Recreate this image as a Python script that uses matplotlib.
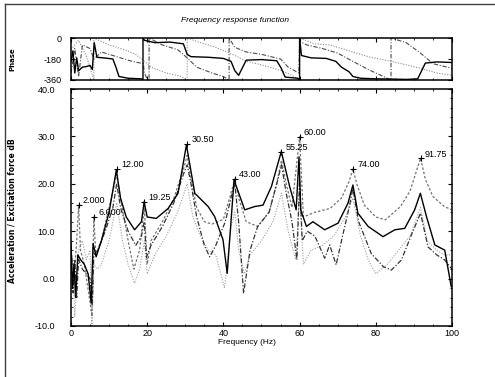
import matplotlib
matplotlib.use('Agg')
import matplotlib.pyplot as plt
from matplotlib.lines import Line2D
from matplotlib.ticker import MultipleLocator, FormatStrFormatter

# ---------------------------------------------------------------------------------------------
# data (frequency in Hz, amplitude in dB, phase in degrees)
# ---------------------------------------------------------------------------------------------
freq_a = [0, 0.4, 0.8, 1.2, 1.8, 2.5, 3.5, 4.5, 5.3, 5.8, 6.6, 8, 10, 11.9, 13, 14.5, 16.7, 18.5,
          19.2, 20, 22.4, 25.5, 28.1, 30.3, 32.5, 36, 37.7, 39.9, 41, 42.8, 45.6, 48.2, 50.4, 52.6,
          55.2, 57.4, 59.1, 59.85, 60.3, 61.8, 63.5, 66.6, 70.1, 72.7, 74, 75.3, 78, 81.9, 85, 87.6,
          90.2, 91.7, 93.3, 95.5, 98.1, 99.8]
db_a = [7, -2, 3, -4, 5, 4, 3, 1, -5.2, 7.4, 4.6, 8, 14, 22.9, 17, 13, 10.3, 12,
        16.2, 13, 12.7, 14.8, 18, 28.2, 18, 15.2, 13.1, 8.2, 1.1, 20.8, 14.5, 15.2, 15.5, 19.4,
        26.8, 19.4, 14.5, 25.7, 14.5, 11, 12, 10.3, 11.7, 15.9, 19.75, 13.8, 11, 8.85, 10.3, 10.6,
        14.5, 18, 13.1, 7.1, 6, -1.7]

freq_b = [0, 0.5, 1, 1.5, 2, 3, 4, 5, 5.6, 6, 7, 9, 11, 12, 13, 15, 17, 18.5, 19.25, 19.8, 21, 24,
          27, 29.5, 30.5, 31.5, 33, 35, 36.4, 38, 40.5, 42, 43, 44, 45.3, 47, 49, 52, 54, 55.25,
          56.5, 58, 59.3, 60, 60.7, 62, 64, 66.6, 67.9, 69.6, 71, 73, 74, 75.5, 78.8, 82, 84.1,
          86.7, 89.5, 91.75, 93.7, 96, 98, 100]
db_b = [8, -3, 4, -4, 4, 2, 1, 0, -5.5, 5, 6, 10, 15, 20, 15, 10, 7, 9, 12, 4.5, 7, 11,
        16, 22, 24, 20, 13, 7, 4.6, 7, 12, 17, 20, 12, -3.1, 6, 11, 14, 20, 24,
        18, 12, 4, 21, 8, 10, 9, 4.3, 7.1, 2.9, 8, 15, 19, 12, 5.3, 2.5, 1.8,
        3.9, 9.5, 13.8, 6.7, 5, 4, 2]

freq_c = [0, 1, 1.5, 2, 2.5, 3.5, 5, 5.5, 6, 6.5, 8, 10, 12, 13, 15, 16.5, 18, 19.25, 20, 21, 24,
          27, 29.5, 30.5, 31.5, 33, 35, 37, 40, 42, 43, 44, 46, 49, 52, 54, 55.25, 56.5, 58, 60,
          61, 64, 68, 71, 73, 74, 75, 77, 80, 82.5, 86.5, 89, 91.75, 93, 95, 98, 100]
db_c = [5, 2, 8, 15.5, 6, 3, -5, -8, 13, 5, 8, 15, 22, 17, 8, 2, 6, 15, 3, 8, 12,
        17, 23, 26, 21, 15, 12, 11.5, 12.5, 18, 21, 17, 12, 11, 14, 20, 25, 20, 15, 29.9,
        13, 14, 14.8, 17, 20.5, 23.1, 20, 15.5, 13, 12.4, 15.2, 18.5, 25.4, 21, 17.3, 15.2, 14.5]

freq_d = [0, 0.3, 1, 2, 3, 4, 5, 5.5, 6, 7, 8, 10, 12, 13.5, 15, 16.7, 18, 19.25, 20, 22, 25, 28,
          30.5, 32, 34, 36, 38, 40.3, 42, 43, 44, 45.5, 47, 50, 53, 55.25, 57, 59, 60, 61, 63,
          66, 69, 72, 74, 76, 78, 80, 83, 86, 89, 91.75, 93.5, 96, 98, 100]
db_d = [-9, 5, -8, 6, 8, 4, 6, -10, 3, 2, 3, 8, 16, 8, 3, -1, 2, 8, 1, 5, 9, 14,
        20, 13, 9, 6, 5, -2, 11, 14, 6, 1, 5, 8, 12, 18, 10, 4, 18, 3, 6,
        7, 9, 13, 17, 9, 4, 1, 3, 6, 9, 15, 8, 6, 5, 5]

# phase traces (a wrap from -360 back to 0 shows as two points at the same frequency)
ph_freq_a = [0, 0.5, 1, 1.5, 2, 3, 4, 5, 5.6, 6.1, 6.8, 9, 11, 11.8, 12.6, 15, 18.5, 18.9, 18.9,
             19.3, 22, 26, 29.5, 30.5, 31.5, 36, 40, 42, 43, 44, 46, 50, 54, 55.2, 56.2, 59.5,
             60, 60, 60.5, 63, 67, 69.5, 71, 73, 74, 76, 80, 84, 88, 91, 91.75, 93, 96, 100]
ph_a = [-200, -110, -300, -170, -280, -250, -245, -235, -270, -40, -165, -172, -180, -250, -330,
        -345, -350, -360, 0, -20, -40, -35, -50, -140, -160, -165, -175, -200, -280, -320, -190,
        -185, -195, -260, -335, -345, -360, 0, -150, -170, -175, -200, -250, -290, -330, -345,
        -350, -352, -355, -350, -300, -215, -205, -210]

ph_freq_b = [0, 1, 2, 3, 5, 6, 8, 12, 16, 19, 19.25, 20, 20.5, 20.5, 24, 28, 30.5, 33, 37, 40, 41.5,
             41.5, 43, 46, 50, 55, 57, 59.8, 60, 62, 66, 70, 74, 78, 82, 84, 84, 88, 91.75, 95, 100]
ph_b = [-300, -90, -330, -60, -90, -180, -120, -160, -200, -220, -300, -350, -360, 0, -60, -100,
        -170, -250, -300, -330, -360, 0, -80, -120, -140, -180, -250, -300, -30, -60, -90, -130,
        -200, -270, -330, -360, 0, -40, -130, -220, -260]

ph_freq_c = [0, 2, 4, 6, 6, 10, 14, 17, 19.25, 21, 25, 29, 30.5, 30.5, 34, 38, 43, 46, 50, 55.25,
             58, 60, 60, 64, 68, 74, 78, 84, 88, 91.75, 96, 100]
ph_c = [-100, -20, -150, -360, 0, -60, -100, -140, -200, -250, -300, -330, -360, 0, -40, -80,
        -150, -200, -230, -280, -320, -360, 0, -50, -60, -120, -160, -200, -230, -260, -300, -320]

# picked peaks
peak_freq = [2.0, 6.0, 12.0, 19.25, 30.5, 43.0, 55.25, 60.0, 74.0, 91.75]
peak_db = [15.5, 13.0, 23.1, 16.2, 28.4, 21.0, 26.7, 29.9, 23.1, 25.4]
peak_labels = ['2.000', '6.000', '12.00', '19.25', '30.50', '43.00', '55.25', '60.00', '74.00', '91.75']

# ---------------------------------------------------------------------------------------------
plt.rc('font', family=['Liberation Sans', 'DejaVu Sans'], size=6.5)
plt.rc('axes', unicode_minus=False, linewidth=1.1)
plt.rc('xtick', direction='in', top=True)
plt.rc('ytick', direction='in', right=True)

fig = plt.figure(figsize=(4.95, 3.77), dpi=100)
ax_ph = fig.add_axes([0.1434, 0.7878, 0.7697, 0.1114])
ax = fig.add_axes([0.1434, 0.1353, 0.7697, 0.6286])

dotted = (0, (1, 1.4))
dashdot = (0, (4, 1.5, 1, 1.5))
dashed = (0, (2, 1.5))

# panel: phase
ax_ph.plot(ph_freq_c, ph_c, color='0.55', lw=0.8, ls=dotted)
ax_ph.plot(ph_freq_b, ph_b, color='0.3', lw=0.8, ls=dashdot)
ax_ph.plot(ph_freq_a, ph_a, color='k', lw=1.0)
ax_ph.set_xlim(0, 100)
ax_ph.set_ylim(-360, 0)
ax_ph.set_yticks([0, -180, -360])
ax_ph.set_yticklabels(['0', '-180', '-360'])
ax_ph.xaxis.set_major_locator(MultipleLocator(20))
ax_ph.xaxis.set_minor_locator(MultipleLocator(5))
ax_ph.tick_params(axis='x', labelbottom=False, length=3, width=0.8)
ax_ph.tick_params(axis='x', which='minor', length=1.5, width=0.6)
ax_ph.tick_params(axis='y', length=3, width=0.8, pad=7)

# panel: amplitude
ax.plot(freq_d, db_d, color='0.62', lw=0.8, ls=dotted)
ax.plot(freq_c, db_c, color='0.45', lw=0.9, ls=dashed)
ax.plot(freq_b, db_b, color='0.2', lw=0.9, ls=dashdot)
ax.plot(freq_a, db_a, color='k', lw=1.0)
ax.plot(peak_freq, peak_db, 'k+', ms=4, mew=0.8)
for f, d, lab in zip(peak_freq, peak_db, peak_labels):
    ax.annotate(lab, (f, d), xytext=(3, 3), textcoords='offset points', va='center', ha='left',
                fontsize=6.5)

ax.set_xlim(0, 100)
ax.set_ylim(-10, 40)
ax.xaxis.set_major_locator(MultipleLocator(20))
ax.xaxis.set_minor_locator(MultipleLocator(5))
ax.yaxis.set_major_locator(MultipleLocator(10))
ax.yaxis.set_minor_locator(MultipleLocator(2))
ax.yaxis.set_major_formatter(FormatStrFormatter('%.1f'))
ax.tick_params(axis='both', length=3, width=0.8)
ax.tick_params(axis='both', which='minor', length=1.5, width=0.6)
ax.tick_params(axis='y', pad=11.5)
ax.tick_params(axis='x', pad=2.5)

# texts
fig.text(0.475, 0.945, 'Frequency response function', ha='center', va='center',
         fontsize=6, style='italic')
fig.text(0.499, 0.091, 'Frequency (Hz)', ha='center', va='center', fontsize=6)
fig.text(0.024, 0.843, 'Phase', rotation=90, ha='center', va='center', fontsize=5,
         fontweight='bold', family='DejaVu Sans')
fig.text(0.024, 0.44, 'Acceleration / Excitation force dB', rotation=90, ha='center',
         va='center', fontsize=5.5, fontweight='bold', family='DejaVu Sans')

# scanned page frame
fig.add_artist(Line2D([0.010, 1.0], [0.989, 0.989], color='0.25', lw=1.0))
fig.add_artist(Line2D([0.010, 0.010], [0.0, 0.989], color='0.25', lw=1.0))

fig.savefig('out.png', dpi=100)
